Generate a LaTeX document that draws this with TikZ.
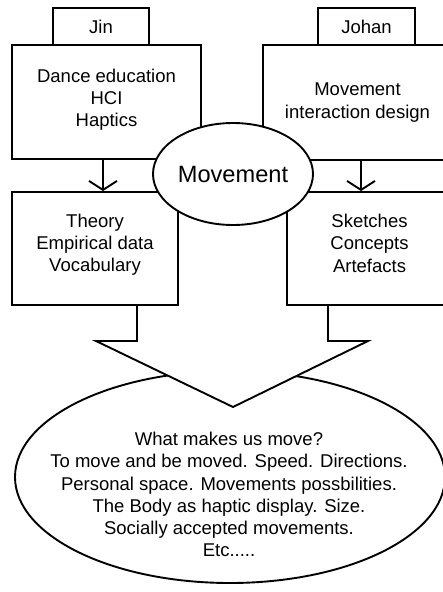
\documentclass[tikz,border=0pt]{standalone}
\usepackage{fontspec}
\setmainfont{Liberation Sans}
\usetikzlibrary{arrows.meta, shapes.geometric}

\tikzset{
  box/.style={draw, line width=1.9pt, rectangle, inner sep=0pt},
  tab/.style={box, minimum width=96pt, minimum height=37pt},
  txt/.style={align=center, inner sep=0pt},
  bubble/.style={draw, line width=1.9pt, ellipse, fill=white, inner sep=0pt, align=center},
  flow/.style={line width=1.9pt, -{Straight Barb[length=9pt, width=28pt]}},
}

\begin{document}
\begin{tikzpicture}[x=1pt, y=-1pt, font=\fontsize{18.5}{22.2}\selectfont]
\path[use as bounding box, clip] (0,0) rectangle (443,592);
%Outcome
\node[bubble, minimum width=430pt, minimum height=212pt] (outcome) at (230,477) {};
\node[txt] (questions) at (229,494.5) {What makes us move?\\To move and be moved. Speed. Directions.\\ Personal space. Movements possbilities.\\The Body as haptic display. Size.\\Socially accepted movements.\\Etc.....};
\draw[line width=1.9pt, fill=white] (137,305) -- (137,341) -- (96,341) -- (233,407) -- (368,341) -- (328,341) -- (328,305);
%Tabs
\node[tab] (jin) at (101,26.5) {Jin};
\node[tab, minimum width=97pt] (johan) at (366.5,26.5) {Johan};
%Fields
\node[box, minimum width=189pt, minimum height=114pt] (jinfield) at (106.5,102) {};
\node[txt] (jintopics) at (106.5,100) {Dance education\\HCI\\Haptics};
\node[box, minimum width=189pt, minimum height=115pt] (johanfield) at (357.5,102.5) {};
\node[txt] (johantopics) at (357.5,102.5) {Movement\\interaction design};
%Results
\node[box, minimum width=166pt, minimum height=113pt] (jinwork) at (95,248.5) {};
\node[txt] (jinresults) at (95,245) {Theory\\Empirical data\\Vocabulary};
\node[box, minimum width=165pt, minimum height=113pt] (johanwork) at (369.5,248.5) {};
\node[txt] (johanresults) at (369.5,243.3) {Sketches\\Concepts\\Artefacts};
%Arrows
\coordinate (jinarrow) at (103,0);
\coordinate (johanarrow) at (361,0);
\draw[flow] (jinarrow |- jinfield.south) -- (jinarrow |- jinwork.north);
\draw[flow] (johanarrow |- johanfield.south) -- (johanarrow |- johanwork.north);
%Centre
\node[bubble, minimum width=160pt, minimum height=102pt, font=\fontsize{23.6}{28}\selectfont] (movement) at (233,174) {Movement};
\end{tikzpicture}
\end{document}
